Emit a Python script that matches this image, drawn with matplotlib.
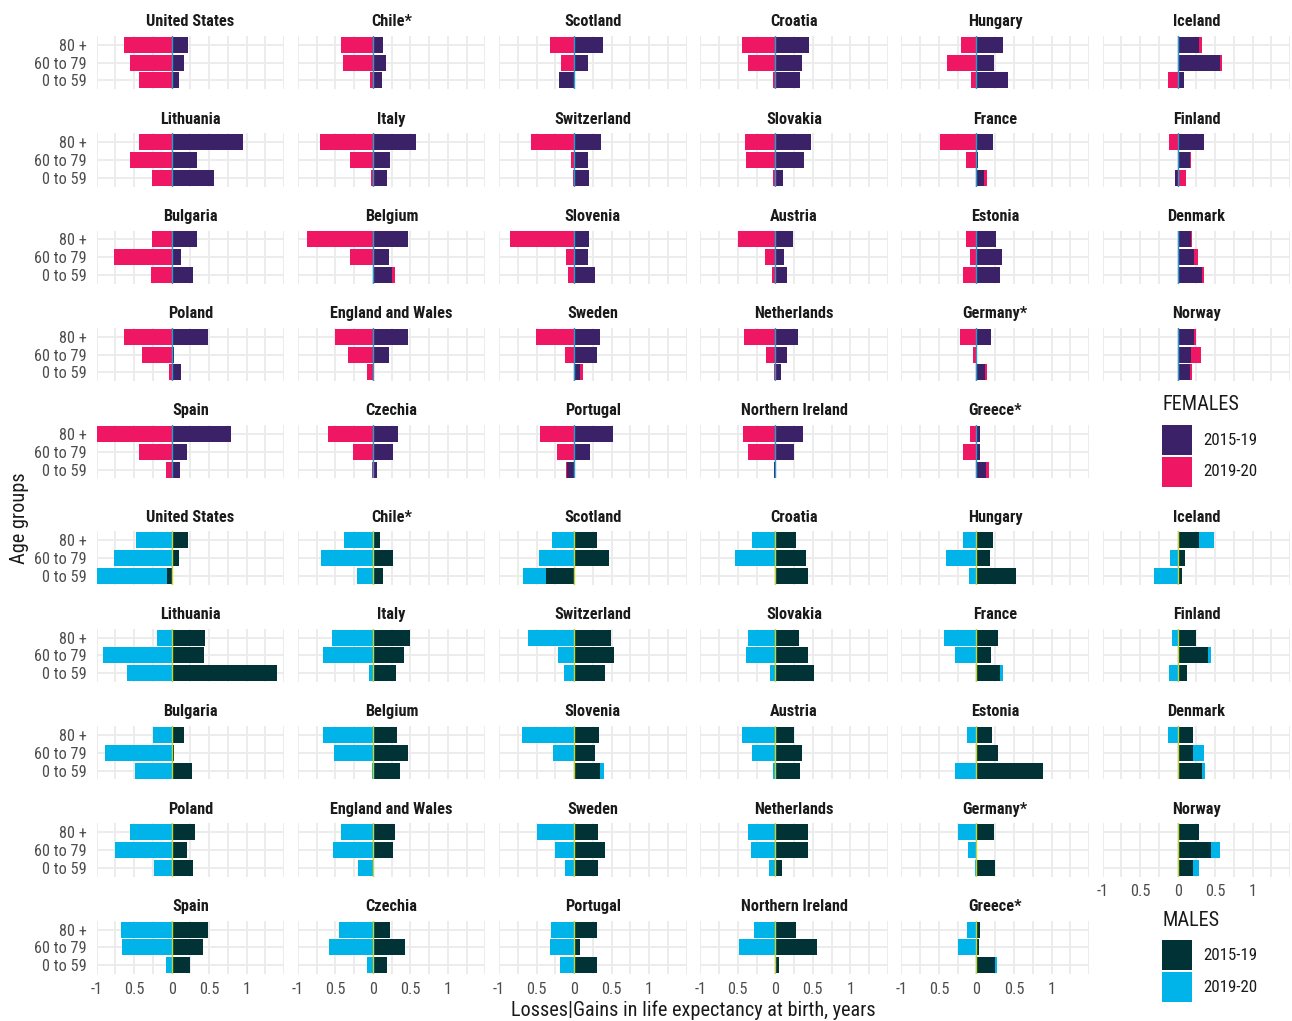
import numpy as np
import matplotlib
matplotlib.use("Agg")
import matplotlib.pyplot as plt
from matplotlib import font_manager as fm
from matplotlib.patches import Rectangle

# ---------------- data ----------------
countries = ["United States", "Chile*", "Scotland", "Croatia", "Hungary", "Iceland",
             "Lithuania", "Italy", "Switzerland", "Slovakia", "France", "Finland",
             "Bulgaria", "Belgium", "Slovenia", "Austria", "Estonia", "Denmark",
             "Poland", "England and Wales", "Sweden", "Netherlands", "Germany*", "Norway",
             "Spain", "Czechia", "Portugal", "Northern Ireland", "Greece*"]
age_groups = ["0 to 59", "60 to 79", "80 +"]
periods = ["2015-19", "2019-20"]
x_ticks = [-1, -0.5, 0, 0.5, 1]
x_ticklabels = ["-1", "0.5", "0", "0.5", "1"]

# values per country: [0 to 59, 60 to 79, 80 +]
fem_1519 = [[0.10, 0.17, 0.22], [0.12, 0.18, 0.13], [-0.20, 0.18, 0.38], [0.33, 0.35, 0.45],
            [0.42, 0.24, 0.36], [0.09, 0.57, 0.28],
            [0.57, 0.34, 0.95], [0.19, 0.23, 0.57], [0.20, 0.18, 0.36], [0.10, 0.38, 0.47],
            [0.10, 0.02, 0.22], [-0.04, 0.16, 0.35],
            [0.28, 0.12, 0.34], [0.26, 0.21, 0.47], [0.28, 0.18, 0.20], [0.16, 0.11, 0.24],
            [0.32, 0.34, 0.26], [0.32, 0.22, 0.18],
            [0.13, 0.03, 0.48], [0.00, 0.21, 0.47], [0.08, 0.31, 0.34], [0.08, 0.15, 0.30],
            [0.11, 0.00, 0.20], [0.16, 0.18, 0.22],
            [0.11, 0.20, 0.79], [0.05, 0.27, 0.34], [-0.09, 0.21, 0.52], [-0.02, 0.25, 0.37],
            [0.13, 0.05, 0.05]]
fem_1920 = [[-0.44, -0.56, -0.64], [-0.04, -0.40, -0.43], [0.00, -0.18, -0.32], [-0.03, -0.37, -0.45],
            [-0.07, -0.39, -0.20], [-0.13, 0.02, 0.05],
            [-0.26, -0.55, -0.44], [-0.02, -0.30, -0.70], [-0.02, -0.04, -0.58], [-0.03, -0.39, -0.40],
            [0.04, -0.14, -0.48], [0.11, 0.02, -0.11],
            [-0.27, -0.77, -0.26], [0.04, -0.31, -0.88], [-0.08, -0.11, -0.86], [-0.04, -0.14, -0.50],
            [-0.18, -0.08, -0.14], [0.03, 0.05, 0.01],
            [-0.03, -0.40, -0.64], [-0.08, -0.33, -0.51], [0.04, -0.12, -0.51], [-0.02, -0.13, -0.42],
            [0.03, -0.04, -0.22], [0.03, 0.13, 0.02],
            [-0.08, -0.43, -1.00], [-0.01, -0.27, -0.60], [-0.02, -0.23, -0.45], [0.00, -0.37, -0.43],
            [0.04, -0.18, -0.09]]
mal_1519 = [[-0.06, 0.10, 0.22], [0.14, 0.27, 0.10], [-0.37, 0.46, 0.30], [0.43, 0.41, 0.28],
            [0.53, 0.18, 0.22], [0.06, 0.10, 0.28],
            [1.41, 0.43, 0.44], [0.31, 0.41, 0.49], [0.41, 0.53, 0.49], [0.52, 0.44, 0.32],
            [0.31, 0.19, 0.29], [0.12, 0.40, 0.24],
            [0.27, 0.03, 0.16], [0.36, 0.47, 0.32], [0.35, 0.28, 0.33], [0.33, 0.36, 0.25],
            [0.88, 0.29, 0.21], [0.32, 0.20, 0.20],
            [0.29, 0.20, 0.31], [0.02, 0.27, 0.29], [0.32, 0.41, 0.32], [0.09, 0.44, 0.44],
            [0.25, 0.00, 0.23], [0.21, 0.44, 0.29],
            [0.25, 0.42, 0.48], [0.19, 0.43, 0.23], [0.31, 0.08, 0.31], [0.05, 0.56, 0.27],
            [0.25, 0.03, 0.05]]
mal_1920 = [[-0.94, -0.77, -0.48], [-0.21, -0.69, -0.39], [-0.31, -0.47, -0.29], [0.01, -0.54, -0.31],
            [-0.10, -0.41, -0.18], [-0.31, -0.10, 0.21],
            [-0.60, -0.92, -0.20], [-0.05, -0.67, -0.55], [-0.13, -0.21, -0.61], [-0.07, -0.39, -0.36],
            [0.04, -0.28, -0.43], [-0.11, 0.05, -0.07],
            [-0.49, -0.89, -0.25], [-0.01, -0.52, -0.67], [0.05, -0.28, -0.69], [-0.03, -0.31, -0.45],
            [-0.28, 0.00, -0.12], [0.05, 0.15, -0.13],
            [-0.23, -0.75, -0.55], [-0.20, -0.53, -0.43], [-0.12, -0.25, -0.49], [-0.08, -0.33, -0.37],
            [-0.02, -0.11, -0.25], [0.08, 0.13, 0.00],
            [-0.08, -0.66, -0.68], [-0.08, -0.58, -0.45], [-0.19, -0.32, -0.31], [0.00, -0.48, -0.28],
            [0.03, -0.24, -0.13]]

# ---------------- style ----------------
names = {f.name for f in fm.fontManager.ttflist}
FONT = "DejaVu Sans"
for cand in ["Roboto Condensed", "Liberation Sans Narrow", "Roboto"]:
    if cand in names:
        FONT = cand
        break
plt.rcParams["font.family"] = [FONT, "DejaVu Sans"]

FEM_COLS = ["#3B2167", "#EF1763"]
MAL_COLS = ["#003236", "#00B3E9"]
FEM_ZERO = "#2A9CC9"
MAL_ZERO = "#C4D637"
GRID = "#EBEBEB"
TICK_COL = "#4D4D4D"
TXT = "#1A1A1A"

W, H = 1292, 1021
fig = plt.figure(figsize=(W / 100, H / 100), dpi=100)

col_left0, col_step, pan_w = 96.7, 201.2, 187.5
fem_top0, mal_top0, row_step, pan_h = 36.0, 531.5, 97.3, 53.3


def panel(idx, top0, v1s, v2s, cols, zcol, show_x):
    r, c = divmod(idx, 6)
    left = col_left0 + col_step * c
    top = top0 + row_step * r
    ax = fig.add_axes([left / W, 1 - (top + pan_h) / H, pan_w / W, pan_h / H])
    y = np.arange(1, len(age_groups) + 1)
    v1 = np.array(v1s[idx])
    v2 = np.array(v2s[idx])
    left2 = np.where(np.sign(v2) == np.sign(v1), v1, 0.0)
    ax.barh(y, v1, height=0.9, color=cols[0], zorder=2)
    ax.barh(y, v2, left=left2, height=0.9, color=cols[1], zorder=2)
    ax.axvline(0, color=zcol, lw=1.0, zorder=3)
    ax.set_xlim(-1, 1.5)
    ax.set_ylim(0.5, 3.5)
    ax.set_xticks(np.arange(-1, 1.51, 0.25), minor=True)
    ax.set_xticks(x_ticks)
    ax.set_yticks(y)
    ax.grid(True, which="both", color=GRID, lw=1.3, zorder=0)
    ax.set_axisbelow(True)
    for s in ax.spines.values():
        s.set_visible(False)
    ax.tick_params(which="both", length=0)
    ax.tick_params(axis="y", pad=7, labelsize=11.7, labelcolor=TICK_COL)
    ax.tick_params(axis="x", pad=5.5, labelsize=11.7, labelcolor=TICK_COL)
    if c == 0:
        ax.set_yticklabels(age_groups)
    else:
        ax.set_yticklabels([])
    if show_x:
        ax.set_xticklabels(x_ticklabels)
    else:
        ax.set_xticklabels([])
    ax.set_title(countries[idx], fontsize=11.7, fontweight="bold", pad=7, color=TXT)
    return ax


n = len(countries)
for i in range(n):
    panel(i, fem_top0, fem_1519, fem_1920, FEM_COLS, FEM_ZERO, False)
for i in range(n):
    r, c = divmod(i, 6)
    show = (r == 4) or (r == 3 and c == 5)
    panel(i, mal_top0, mal_1519, mal_1920, MAL_COLS, MAL_ZERO, show)


def legend(title, title_y, key_top, cols):
    fig.text(1162 / W, 1 - title_y / H, title, fontsize=14.6, ha="left", va="center", color=TXT)
    for k, (lab, col) in enumerate(zip(periods, cols)):
        t = key_top + 32 * k
        fig.add_artist(Rectangle((1162 / W, 1 - (t + 30) / H), 30 / W, 30 / H,
                                 transform=fig.transFigure, facecolor=col, edgecolor="none"))
        fig.text(1203 / W, 1 - (t + 15) / H, lab, fontsize=12.2, ha="left", va="center", color=TXT)


legend("FEMALES", 405, 425, FEM_COLS)
legend("MALES", 920, 940, MAL_COLS)

fig.text(20 / W, 1 - 518 / H, "Age groups", rotation=90, fontsize=14.6, ha="center", va="center", color=TXT)
fig.text(693 / W, 1 - 1010 / H, "Losses|Gains in life expectancy at birth, years", fontsize=14.6,
         ha="center", va="center", color=TXT)

fig.savefig("out.png", dpi=100, facecolor="white")
